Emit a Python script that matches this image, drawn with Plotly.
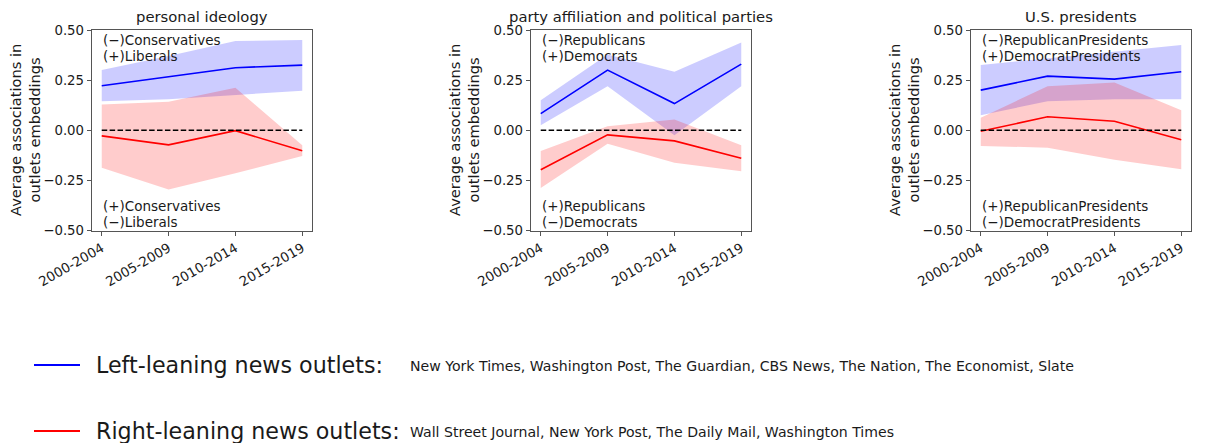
import plotly.graph_objects as go

W, H = 1213, 443

periods = ["2000-2004", "2005-2009", "2010-2014", "2015-2019"]
positions = [0, 1, 2, 3]
yticks = [-0.5, -0.25, 0.0, 0.25, 0.5]
ytick_labels = ["\u22120.50", "\u22120.25", "0.00", "0.25", "0.50"]

panel_titles = ["personal ideology", "party affiliation and political parties", "U.S. presidents"]
top_notes = [["(\u2212)Conservatives", "(+)Liberals"],
             ["(\u2212)Republicans", "(+)Democrats"],
             ["(\u2212)RepublicanPresidents", "(+)DemocratPresidents"]]
bottom_notes = [["(+)Conservatives", "(\u2212)Liberals"],
                ["(+)Republicans", "(\u2212)Democrats"],
                ["(+)RepublicanPresidents", "(\u2212)DemocratPresidents"]]

# personal ideology
ideology_left = [0.222, 0.268, 0.312, 0.325]
ideology_left_hi = [0.300, 0.370, 0.445, 0.450]
ideology_left_lo = [0.145, 0.155, 0.175, 0.197]
ideology_right = [-0.028, -0.073, -0.002, -0.102]
ideology_right_hi = [0.128, 0.142, 0.212, -0.075]
ideology_right_lo = [-0.187, -0.295, -0.215, -0.128]

# party affiliation and political parties
party_left = [0.083, 0.300, 0.133, 0.330]
party_left_hi = [0.150, 0.378, 0.292, 0.438]
party_left_lo = [0.025, 0.220, -0.025, 0.220]
party_right = [-0.197, -0.023, -0.053, -0.140]
party_right_hi = [-0.103, 0.020, 0.053, -0.075]
party_right_lo = [-0.288, -0.067, -0.162, -0.205]

# U.S. presidents
pres_left = [0.200, 0.270, 0.255, 0.292]
pres_left_hi = [0.325, 0.358, 0.392, 0.425]
pres_left_lo = [0.075, 0.145, 0.155, 0.155]
pres_right = [-0.005, 0.067, 0.045, -0.047]
pres_right_hi = [0.062, 0.220, 0.238, 0.100]
pres_right_lo = [-0.078, -0.087, -0.147, -0.195]

left_label = "Left-leaning news outlets:"
left_outlets = "New York Times, Washington Post, The Guardian, CBS News, The Nation, The Economist, Slate"
right_label = "Right-leaning news outlets:"
right_outlets = "Wall Street Journal, New York Post, The Daily Mail, Washington Times"

panels = [
    (ideology_left, ideology_left_lo, ideology_left_hi, ideology_right, ideology_right_lo, ideology_right_hi),
    (party_left, party_left_lo, party_left_hi, party_right, party_right_lo, party_right_hi),
    (pres_left, pres_left_lo, pres_left_hi, pres_right, pres_right_lo, pres_right_hi),
]

BLUE = "#0000ff"
RED = "#ff0000"
BLUE_FILL = "rgba(0,0,255,0.2)"
RED_FILL = "rgba(255,0,0,0.2)"
FONT = "DejaVu Sans"
SPINE = "#555555"
TXT = "#1a1a1a"

# axes boxes in pixels
left_px = [91.7, 530.7, 970.7]
ax_w = 220.6
top_px, bot_px = 30.0, 230.5

fig = go.Figure()
annotations = []
shapes = []

for i, (lm, llo, lhi, rm, rlo, rhi) in enumerate(panels):
    n = "" if i == 0 else str(i + 1)
    xa, ya = "x" + n, "y" + n

    def band(lo, hi, color):
        return go.Scatter(x=positions + positions[::-1], y=hi + lo[::-1],
                          fill="toself", fillcolor=color, mode="lines",
                          line=dict(width=0), hoverinfo="skip",
                          showlegend=False, xaxis=xa, yaxis=ya)

    fig.add_trace(go.Scatter(x=positions, y=lm, mode="lines", line=dict(color=BLUE, width=1.6),
                             showlegend=False, xaxis=xa, yaxis=ya))
    fig.add_trace(band(llo, lhi, BLUE_FILL))
    fig.add_trace(go.Scatter(x=positions, y=rm, mode="lines", line=dict(color=RED, width=1.6),
                             showlegend=False, xaxis=xa, yaxis=ya))
    fig.add_trace(band(rlo, rhi, RED_FILL))
    fig.add_trace(go.Scatter(x=[positions[0], positions[-1]], y=[0, 0], mode="lines",
                             line=dict(color="black", width=1.5, dash="5.5px,2.4px"),
                             showlegend=False, xaxis=xa, yaxis=ya))

    x0 = left_px[i] / W
    x1 = (left_px[i] + ax_w) / W
    axis_common = dict(showgrid=False, zeroline=False, showline=True, mirror=True,
                       linecolor=SPINE, linewidth=1, ticks="outside", ticklen=4,
                       tickcolor=SPINE, tickwidth=1, automargin=False,
                       tickfont=dict(family=FONT, size=13.3, color=TXT))
    fig.update_layout(**{
        ("xaxis" + n): dict(domain=[x0, x1], range=[-0.15, 3.15], anchor=ya,
                            tickvals=positions, ticktext=periods, tickangle=-30,
                            **axis_common),
        ("yaxis" + n): dict(domain=[1 - bot_px / H, 1 - top_px / H], range=[-0.5, 0.5],
                            anchor=xa, tickvals=yticks, ticktext=ytick_labels,
                            **axis_common),
    })

    cx = (left_px[i] + ax_w / 2) / W
    annotations.append(dict(text=panel_titles[i], x=cx, y=1 - 17 / H, xref="paper", yref="paper",
                            showarrow=False, xanchor="center", yanchor="middle",
                            font=dict(family=FONT, size=14.8, color=TXT)))
    annotations.append(dict(text="Average associations in<br>outlets embeddings",
                            x=(left_px[i] - 66) / W, y=1 - ((top_px + bot_px) / 2) / H,
                            xref="paper", yref="paper", showarrow=False, textangle=-90,
                            xanchor="center", yanchor="middle",
                            font=dict(family=FONT, size=14.6, color=TXT)))
    tx = (left_px[i] + 9) / W
    for text, ypx in zip(top_notes[i] + bottom_notes[i], [40, 56, 206, 222]):
        annotations.append(dict(text=text, x=tx, y=1 - ypx / H, xref="paper", yref="paper",
                                showarrow=False, xanchor="left", yanchor="middle",
                                font=dict(family=FONT, size=13.5, color=TXT)))

# key below the panels
for label, outlets, color, ypx in [(left_label, left_outlets, BLUE, 365),
                                   (right_label, right_outlets, RED, 431)]:
    shapes.append(dict(type="line", xref="paper", yref="paper",
                       x0=34 / W, x1=80 / W, y0=1 - ypx / H, y1=1 - ypx / H,
                       line=dict(color=color, width=2)))
    annotations.append(dict(text=label, x=95 / W, y=1 - ypx / H, xref="paper", yref="paper",
                            showarrow=False, xanchor="left", yanchor="middle", borderpad=0,
                            font=dict(family=FONT, size=22.2, color=TXT)))
    annotations.append(dict(text=outlets, x=409 / W, y=1 - (ypx + 1) / H, xref="paper", yref="paper",
                            showarrow=False, xanchor="left", yanchor="middle", borderpad=0,
                            font=dict(family=FONT, size=14.1, color=TXT)))

fig.update_layout(width=W, height=H, margin=dict(l=0, r=0, t=0, b=0, autoexpand=False),
                  paper_bgcolor="white", plot_bgcolor="white",
                  annotations=annotations, shapes=shapes, showlegend=False)

fig.write_html("out.html")
